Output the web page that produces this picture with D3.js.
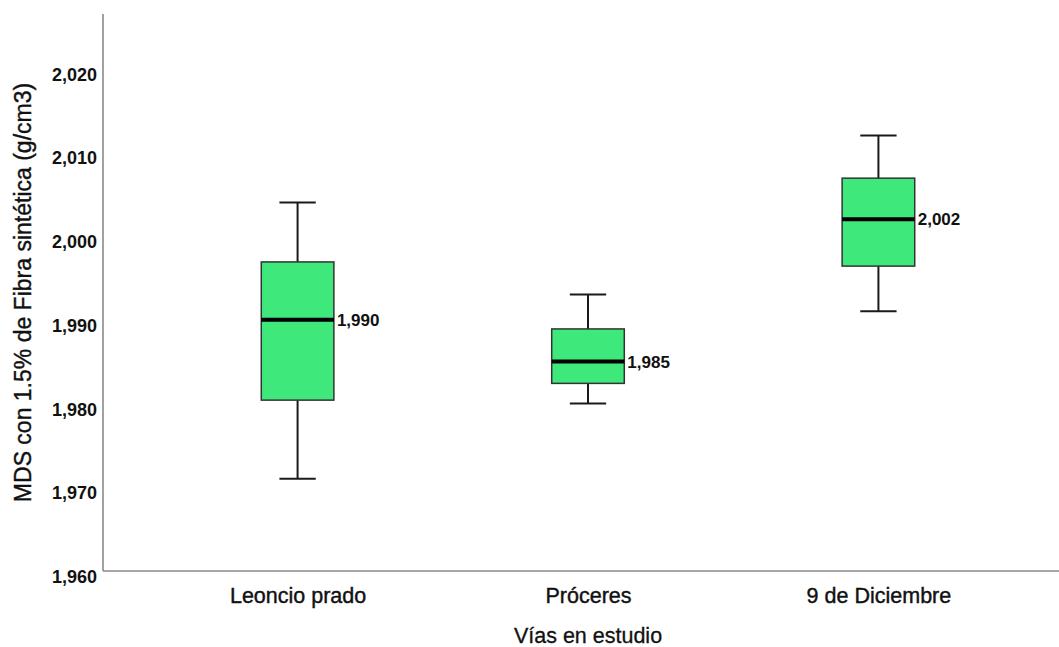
<!DOCTYPE html>
<html>
<head>
<meta charset="utf-8">
<script src="https://cdn.jsdelivr.net/npm/d3@7"></script>
<style>
  html, body { margin: 0; padding: 0; background: #fff; }
  svg { display: block; font-family: "Liberation Sans", Arial, sans-serif; }
</style>
</head>
<body>
<svg id="chart" width="1059" height="647"></svg>
<script>
// ---- data ----
const categories = ["Leoncio prado", "Próceres", "9 de Diciembre"];
const whiskerLow  = [1.971, 1.980, 1.991];
const q1          = [1.9804, 1.9824, 1.9964];
const medians     = [1.990, 1.985, 2.002];
const q3          = [1.9969, 1.9889, 2.0069];
const whiskerHigh = [2.004, 1.993, 2.012];
const medianLabels = ["1,990", "1,985", "2,002"];
const yTicks = [1.960, 1.970, 1.980, 1.990, 2.000, 2.010, 2.020];
const yTickLabels = ["1,960", "1,970", "1,980", "1,990", "2,000", "2,010", "2,020"];
const xTitle = "Vías en estudio";
const yTitle = "MDS con 1.5% de Fibra sintética (g/cm3)";

(function () {
const rows = categories.map((c, i) => ({
  cat: c, lo: whiskerLow[i], q1: q1[i], med: medians[i], q3: q3[i], hi: whiskerHigh[i], label: medianLabels[i]
}));

const svg = d3.select("#chart");
const pLeft = 103, pRight = 1073, pTop = 14, pBottom = 571;

const x = d3.scalePoint().domain(categories).range([pLeft, pRight]).padding(0.67);
const y = d3.scaleLinear().domain([1.960, 2.0265]).range([pBottom, pTop]);

const boxW = x.step() * 0.25;
const capW = boxW / 2;

// axes lines
svg.append("line").attr("x1", pLeft).attr("x2", pLeft).attr("y1", pTop).attr("y2", pBottom)
  .attr("stroke", "#8a8a8a").attr("stroke-width", 1.6);
svg.append("line").attr("x1", pLeft).attr("x2", 1059).attr("y1", pBottom).attr("y2", pBottom)
  .attr("stroke", "#8a8a8a").attr("stroke-width", 1.6);

// y tick labels
const yAxis = d3.axisLeft(y).tickValues(yTicks).tickSize(0).tickPadding(6)
  .tickFormat((d, i) => yTickLabels[i]);
const gy = svg.append("g").attr("transform", `translate(${pLeft},0)`).call(yAxis);
gy.select(".domain").remove();
gy.selectAll("text").attr("font-size", 18).attr("font-weight", "bold")
  .attr("fill", "#111").attr("font-family", "Liberation Sans, Arial, sans-serif")
  .attr("dy", "0.65em");

// x tick labels
const xAxis = d3.axisBottom(x).tickSize(0).tickPadding(0);
const gx = svg.append("g").attr("transform", `translate(0,${pBottom})`).call(xAxis);
gx.select(".domain").remove();
gx.selectAll("text").attr("font-size", 21.5).attr("fill", "#111")
  .attr("stroke", "#111").attr("stroke-width", 0.4)
  .attr("font-family", "Liberation Sans, Arial, sans-serif")
  .attr("y", 32).attr("dy", 0);

// boxes
const g = svg.append("g");
const box = g.selectAll("g.box").data(rows).join("g").attr("class", "box");

box.append("line")
  .attr("x1", d => x(d.cat)).attr("x2", d => x(d.cat))
  .attr("y1", d => y(d.hi)).attr("y2", d => y(d.q3))
  .attr("stroke", "#1a1a1a").attr("stroke-width", 2);
box.append("line")
  .attr("x1", d => x(d.cat)).attr("x2", d => x(d.cat))
  .attr("y1", d => y(d.q1)).attr("y2", d => y(d.lo))
  .attr("stroke", "#1a1a1a").attr("stroke-width", 2);
box.append("line")
  .attr("x1", d => x(d.cat) - capW / 2).attr("x2", d => x(d.cat) + capW / 2)
  .attr("y1", d => y(d.hi)).attr("y2", d => y(d.hi))
  .attr("stroke", "#1a1a1a").attr("stroke-width", 2);
box.append("line")
  .attr("x1", d => x(d.cat) - capW / 2).attr("x2", d => x(d.cat) + capW / 2)
  .attr("y1", d => y(d.lo)).attr("y2", d => y(d.lo))
  .attr("stroke", "#1a1a1a").attr("stroke-width", 2);

box.append("rect")
  .attr("x", d => x(d.cat) - boxW / 2).attr("width", boxW)
  .attr("y", d => y(d.q3)).attr("height", d => y(d.q1) - y(d.q3))
  .attr("fill", "#3ee87b").attr("stroke", "#333").attr("stroke-width", 1.5);

box.append("line")
  .attr("x1", d => x(d.cat) - boxW / 2).attr("x2", d => x(d.cat) + boxW / 2)
  .attr("y1", d => y(d.med)).attr("y2", d => y(d.med))
  .attr("stroke", "#000").attr("stroke-width", 4);

box.append("text")
  .attr("x", d => x(d.cat) + boxW / 2 + 3).attr("y", d => y(d.med))
  .attr("dy", "0.36em")
  .attr("font-size", 17).attr("font-weight", "bold").attr("fill", "#111")
  .text(d => d.label);

// axis titles
svg.append("text").attr("x", (x(categories[0]) + x(categories[2])) / 2).attr("y", 643)
  .attr("text-anchor", "middle").attr("font-size", 21.5).attr("fill", "#111")
  .attr("stroke", "#111").attr("stroke-width", 0.3).text(xTitle);
svg.append("text")
  .attr("transform", `translate(31,${(pTop + pBottom) / 2}) rotate(-90)`)
  .attr("text-anchor", "middle").attr("font-size", 23).attr("fill", "#111")
  .attr("stroke", "#111").attr("stroke-width", 0.4).text(yTitle);
})();
</script>
</body>
</html>
